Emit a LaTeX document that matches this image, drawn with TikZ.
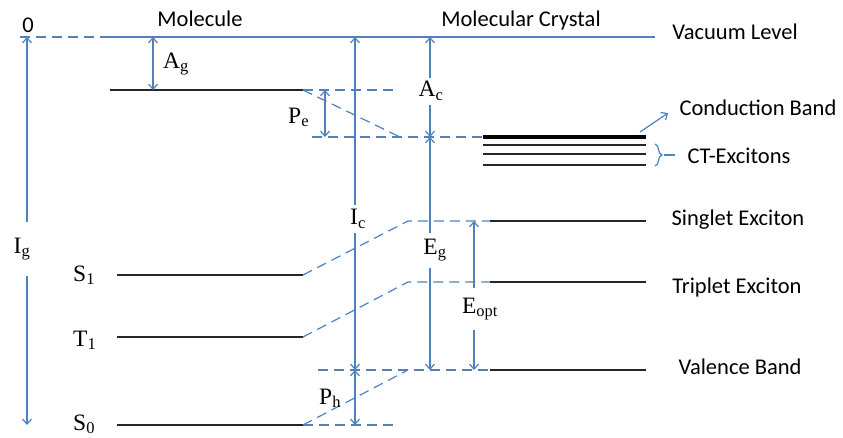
\documentclass[tikz,border=0pt]{standalone}
\usepackage{fontspec}
\setmainfont{Carlito}
\newfontfamily\serifsym{Liberation Serif}
\usetikzlibrary{arrows.meta, decorations.pathreplacing}
\definecolor{blu}{RGB}{79,129,189}
\newcommand{\simb}[2]{{\serifsym #1\textsubscript{#2}}}

\begin{document}
\begin{tikzpicture}[x=1pt, y=-1pt,
    livello/.style={line width=1.3pt, black!85},
    trat/.style={blu, line width=1.2pt, dash pattern=on 10pt off 6pt},
    freccia/.style={blu, line width=1.2pt, {Straight Barb[length=5pt,width=9pt]}-{Straight Barb[length=5pt,width=9pt]}},
    etich/.style={font=\fontsize{22.5}{24}\selectfont, anchor=base, inner sep=0pt},
    simbolo/.style={font=\fontsize{23.5}{24}\selectfont, inner sep=0pt},
    sulla/.style={simbolo, fill=white, inner xsep=2pt}]
    \useasboundingbox (0,0) rectangle (843,437);

    % livello del vuoto
    \coordinate (v0) at (20,37);
    \coordinate (v1) at (105,37);
    \coordinate (v2) at (655,37);
    \draw[trat] (v0) -- (v1);
    \draw[blu, line width=1.2pt] (v1) -- (v2);

    % titoli
    \node[etich] (zero) at (28,32) {0};
    \node[etich] (mol) at (200,26) {Molecule};
    \node[etich] (cri) at (521,26) {Molecular Crystal};
    \node[etich] (vuoto) at (735,39) {Vacuum Level};

    % livelli della molecola
    \coordinate (ag0) at (110,90);  \coordinate (ag1) at (303,90);
    \coordinate (s10) at (117,275); \coordinate (s11) at (303,275);
    \coordinate (t10) at (117,337); \coordinate (t11) at (303,337);
    \coordinate (s00) at (117,425); \coordinate (s01) at (303,425);
    \draw[livello] (ag0) -- (ag1);
    \draw[livello] (s10) -- (s11);
    \draw[livello] (t10) -- (t11);
    \draw[livello] (s00) -- (s01);
    \node[simbolo, anchor=base west] (S1) at (73,281) {\simb{S}{1}};
    \node[simbolo, anchor=base west] (T1) at (73,346) {\simb{T}{1}};
    \node[simbolo, anchor=base west] (S0) at (73,430) {\simb{S}{0}};

    % livelli del cristallo
    \coordinate (cb0) at (483,137); \coordinate (cb1) at (646,137);
    \coordinate (se0) at (490,221); \coordinate (se1) at (646,221);
    \coordinate (te0) at (490,282); \coordinate (te1) at (646,282);
    \coordinate (vb0) at (490,370); \coordinate (vb1) at (646,370);
    \draw[black, line width=4.5pt] (cb0) -- (cb1);
    \foreach \y in {145,154,165}
        \draw[livello] (483,\y) -- (646,\y);
    \draw[livello] (se0) -- (se1);
    \draw[livello] (te0) -- (te1);
    \draw[livello] (vb0) -- (vb1);

    % linee tratteggiate
    \coordinate (se2) at (408,221);
    \coordinate (te2) at (408,282);
    \coordinate (vb2) at (408,370);
    \draw[trat] (ag1) -- (393,90);
    \draw[trat] (ag1) -- (400,137);
    \draw[trat] (312,137) -- (cb0);
    \draw[trat] (s11) -- (se2) -- (se0);
    \draw[trat] (t11) -- (te2) -- (te0);
    \draw[trat] (s01) -- (vb2);
    \draw[trat] (318,370) -- (vb0);
    \draw[trat] (s01) -- (393,425);

    % frecce
    \coordinate (ig0) at (27,37);   \coordinate (ig1) at (27,425);
    \coordinate (ag2) at (153,37);  \coordinate (ag3) at (153,90);
    \coordinate (pe0) at (325,90);  \coordinate (pe1) at (325,137);
    \coordinate (ic0) at (355,37);  \coordinate (ic1) at (355,370);
    \coordinate (ac0) at (430,37);  \coordinate (ac1) at (430,137);
    \coordinate (eg1) at (430,370);
    \coordinate (eo0) at (474,221); \coordinate (eo1) at (474,370);
    \coordinate (ph1) at (355,425);
    \draw[freccia] (ig0) -- (ig1);
    \draw[freccia] (ag2) -- (ag3);
    \draw[freccia] (pe0) -- (pe1);
    \draw[freccia] (ic0) -- (ic1);
    \draw[freccia] (ac0) -- (ac1);
    \draw[freccia] (ac1) -- (eg1);
    \draw[freccia] (eo0) -- (eo1);
    \draw[freccia] (ic1) -- (ph1);

    % simboli
    \node[sulla, minimum height=54pt] (Ig) at (22,249) {\simb{I}{g}};
    \node[sulla, minimum height=28pt] (Ic) at (358,219) {\simb{I}{c}};
    \node[sulla, minimum height=27pt] (Ac) at (431,91) {\simb{A}{c}};
    \node[sulla, minimum height=35pt] (Eg) at (435,250) {\simb{E}{g}};
    \node[sulla, minimum height=42pt] (Eo) at (480,309) {\simb{E}{opt}};
    \node[simbolo, anchor=base west] (Ag) at (163,68) {\simb{A}{g}};
    \node[simbolo, anchor=base west] (Pe) at (288,123) {\simb{P}{e}};
    \node[simbolo, anchor=base west] (Ph) at (319,404) {\simb{P}{h}};

    % bande ed eccitoni
    \coordinate (cbf0) at (640,132);
    \coordinate (cbf1) at (668,113);
    \draw[blu, line width=1.2pt, -{Straight Barb[length=5pt,width=9pt]}] (cbf0) -- (cbf1);
    \node[etich] (cond) at (758,115) {Conduction Band};
    \draw[blu, line width=1.2pt, decorate, decoration={brace, amplitude=7pt}] (655,144) -- (655,166);
    \draw[blu, line width=1.2pt] (664,155) -- (675,155);
    \node[etich] (ct) at (739,163) {CT-Excitons};
    \node[etich] (sing) at (738,225) {Singlet Exciton};
    \node[etich] (trip) at (737,293) {Triplet Exciton};
    \node[etich] (val) at (740,374) {Valence Band};
\end{tikzpicture}
\end{document}
